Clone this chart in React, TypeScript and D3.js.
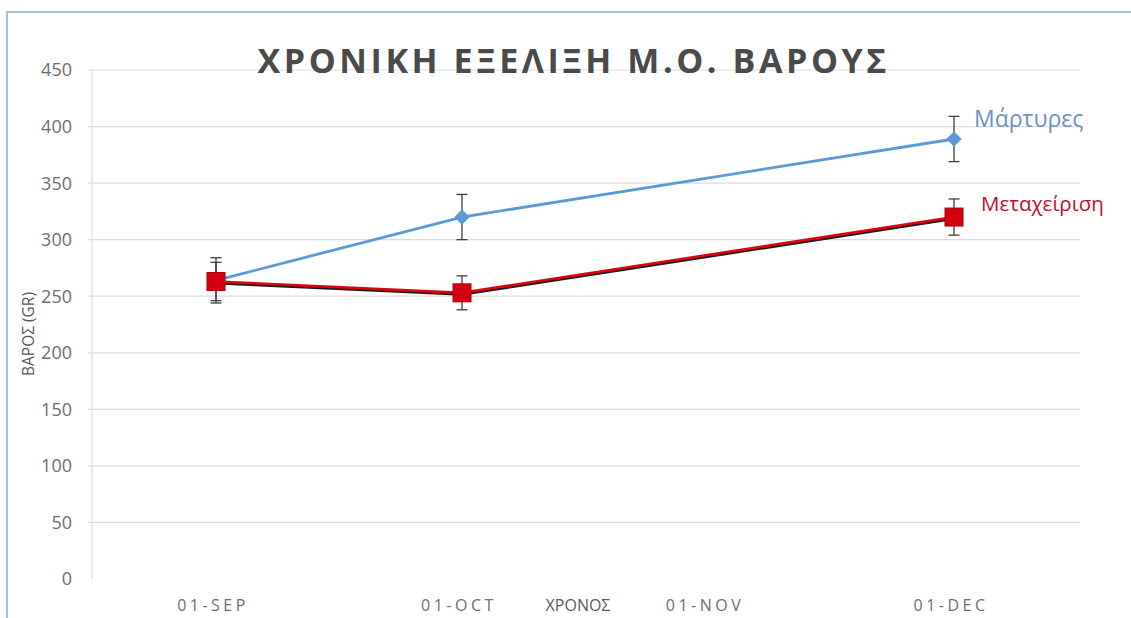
import * as d3 from "d3";

const xTicks = ["01-SEP", "01-OCT", "01-NOV", "01-DEC"];
const yTicks = [0, 50, 100, 150, 200, 250, 300, 350, 400, 450];

const dates = ["01-SEP", "01-OCT", "01-DEC"];
const martyres = [264, 320, 389];
const martyresErr = [20, 20, 20];
const metax = [263, 253, 320];
const metaxErr = [17, 15, 16];

const FONT = "'Open Sans', 'DejaVu Sans', sans-serif";

export default function App() {
  const width = 1131;
  const height = 618;

  const x = d3.scalePoint<string>().domain(xTicks).range([216, 954]);
  const y = d3.scaleLinear().domain([0, 450]).range([579, 70]);

  const blue = dates.map((d, i) => ({ d, v: martyres[i], e: martyresErr[i] }));
  const red = dates.map((d, i) => ({ d, v: metax[i], e: metaxErr[i] }));

  const line = d3
    .line<{ d: string; v: number }>()
    .x((p) => x(p.d)!)
    .y((p) => y(p.v));

  const diamond = d3.symbol().type(d3.symbolDiamond2).size(150)();

  const errBars = (pts: typeof blue, key: string) =>
    pts.map((p) => {
      const cx = x(p.d)!;
      const y1 = y(p.v + p.e);
      const y2 = y(p.v - p.e);
      return (
        <g key={key + p.d} stroke="#3f3f3f" strokeWidth={1.3}>
          <line x1={cx} x2={cx} y1={y1} y2={y2} />
          <line x1={cx - 5.5} x2={cx + 5.5} y1={y1} y2={y1} />
          <line x1={cx - 5.5} x2={cx + 5.5} y1={y2} y2={y2} />
        </g>
      );
    });

  return (
    <svg
      width={width}
      height={height}
      style={{ position: "absolute", left: 0, top: 0, background: "#fff" }}
    >
      {/* frame */}
      <rect x={7} y={12} width={1135} height={620} fill="#fff" stroke="#a9c2d8" strokeWidth={2} />

      {/* grid */}
      {yTicks.slice(1).map((t) => (
        <line key={t} x1={88} x2={1080} y1={y(t)} y2={y(t)} stroke="#dcdcdc" strokeWidth={1.2} />
      ))}
      <line x1={92} x2={92} y1={y(450)} y2={y(0)} stroke="#dcdcdc" strokeWidth={1.2} />

      {/* y tick labels */}
      {yTicks.map((t) => (
        <text
          key={t}
          x={72}
          y={y(t)}
          dy="0.36em"
          textAnchor="end"
          fontFamily={FONT}
          fontSize={18}
          fill="#6e6e6e"
        >
          {t}
        </text>
      ))}

      {/* x tick labels */}
      {xTicks.map((t) => (
        <text
          key={t}
          x={x(t)! - 3}
          y={611}
          textAnchor="middle"
          fontFamily={FONT}
          fontSize={16}
          letterSpacing={3.5}
          fill="#6e6e6e"
        >
          {t}
        </text>
      ))}

      {/* axis titles */}
      <text x={578} y={611} textAnchor="middle" fontFamily={FONT} fontSize={16} fill="#595959">
        ΧΡΟΝΟΣ
      </text>
      <text
        transform="translate(34,334) rotate(-90)"
        textAnchor="middle"
        fontFamily={FONT}
        fontSize={15.5}
        fill="#595959"
      >
        ΒΑΡΟΣ (GR)
      </text>

      {/* title */}
      <text
        x={572}
        y={73}
        textAnchor="middle"
        fontFamily={FONT}
        fontWeight="bold"
        fontSize={34}
        textLength={629}
        lengthAdjust="spacing"
        fill="#4a4a4a"
      >
        ΧΡΟΝΙΚΗ ΕΞΕΛΙΞΗ Μ.Ο. ΒΑΡΟΥΣ
      </text>

      {/* Μάρτυρες */}
      <path d={line(blue)!} fill="none" stroke="#5b9bd5" strokeWidth={2.8} />
      {errBars(blue, "b")}
      {blue.map((p) => (
        <path
          key={"bm" + p.d}
          d={diamond!}
          transform={`translate(${x(p.d)},${y(p.v)})`}
          fill="#5b9bd5"
        />
      ))}

      {/* Μεταχείριση */}
      <path d={line(red)!} fill="none" stroke="#1a1a1a" strokeWidth={3} transform="translate(0,1.5)" />
      <path d={line(red)!} fill="none" stroke="#e00010" strokeWidth={2.6} />
      {errBars(red, "r")}
      {red.map((p) => (
        <rect
          key={"rm" + p.d}
          x={x(p.d)! - 9}
          y={y(p.v) - 9}
          width={18}
          height={18}
          fill="#d40010"
          stroke="#a8000c"
          strokeWidth={1}
        />
      ))}

      {/* series labels */}
      <text x={974} y={127} fontFamily={FONT} fontSize={23} fill="#6f92c2">
        Μάρτυρες
      </text>
      <text x={981} y={211} fontFamily={FONT} fontSize={20.5} fill="#c0102a">
        Μεταχείριση
      </text>
    </svg>
  );
}
